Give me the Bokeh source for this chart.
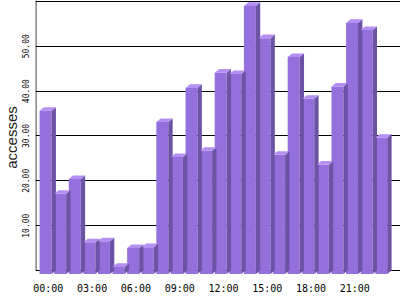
from bokeh.plotting import figure
from bokeh.models import FixedTicker, Range1d, Title
from bokeh.embed import file_html
from bokeh.resources import INLINE

hours = ["%02d:00" % h for h in range(24)]
accesses = [36.4, 17.9, 21.2, 7.1, 7.3, 1.6, 5.8, 6.0, 33.9, 26.1, 41.5, 27.5,
            44.9, 44.6, 59.8, 52.6, 26.6, 48.4, 39.1, 24.4, 41.8, 56.0, 54.4, 30.4]
y_ticks = [10, 20, 30, 40, 50]
grid_levels = [0, 10, 20, 30, 40, 50, 60]
y_title = "accesses"

FRONT = "#9370DB"
SIDE = "#6C53A6"
TOP = "#B58EF2"

x0, x1 = -0.88, 24.13
y0, y1 = -0.89, 60.2

p = figure(width=400, height=300, output_backend="svg", toolbar_location=None,
           x_range=Range1d(x0, x1), y_range=Range1d(y0, y1),
           min_border_left=33, min_border_right=0, min_border_top=0,
           min_border_bottom=26)
p.outline_line_color = None
p.background_fill_color = "white"
p.border_fill_color = "white"

p.xgrid.visible = False
p.ygrid.ticker = FixedTicker(ticks=grid_levels)
p.ygrid.grid_line_color = "black"
p.ygrid.grid_line_width = 1

xs = list(range(len(hours)))
fw, dx, dy = 0.82, 0.30, 0.8
lefts = [x - 0.6 for x in xs]
rights = [l + fw for l in lefts]
fronts_top = [v - dy for v in accesses]

p.quad(left=lefts, right=rights, bottom=[-dy] * len(xs), top=fronts_top,
       fill_color=FRONT, line_color=None)
side_xs = [[r, r + dx, r + dx, r] for r in rights]
side_ys = [[-dy, 0, v, v - dy] for v in accesses]
p.patches(side_xs, side_ys, fill_color=SIDE, line_color=None)
top_xs = [[l, l + dx, r + dx, r] for l, r in zip(lefts, rights)]
top_ys = [[v - dy, v, v, v - dy] for v in accesses]
p.patches(top_xs, top_ys, fill_color=TOP, line_color=None)

p.segment(x0=[-0.85], y0=[0], x1=[-0.85], y1=[y1], line_color="black", line_width=1)

p.xaxis.ticker = FixedTicker(ticks=xs[::3])
p.xaxis.major_label_overrides = {i: hours[i] for i in xs[::3]}
p.xaxis.axis_line_color = None
p.xaxis.major_tick_line_color = None
p.xaxis.minor_tick_line_color = None
p.xaxis.major_label_standoff = 2
p.xaxis.major_label_text_font = "DejaVu Sans Mono"
p.xaxis.major_label_text_font_size = "10px"
p.xaxis.major_label_text_color = "black"

p.yaxis.ticker = FixedTicker(ticks=y_ticks)
p.yaxis.major_label_overrides = {t: "%.2f" % t for t in y_ticks}
p.yaxis.major_label_orientation = "vertical"
p.yaxis.axis_line_color = None
p.yaxis.major_tick_line_color = None
p.yaxis.minor_tick_line_color = None
p.yaxis.major_label_standoff = 0
p.yaxis.major_label_text_font = "DejaVu Sans Mono"
p.yaxis.major_label_text_font_size = "8px"
p.yaxis.major_label_text_color = "black"

t = Title(text=y_title, align="center", standoff=0, offset=0,
          text_font="Liberation Sans", text_font_size="15px",
          text_font_style="normal", text_color="#222222")
p.add_layout(t, "left")

open("out.html", "w").write(file_html(p, INLINE))
